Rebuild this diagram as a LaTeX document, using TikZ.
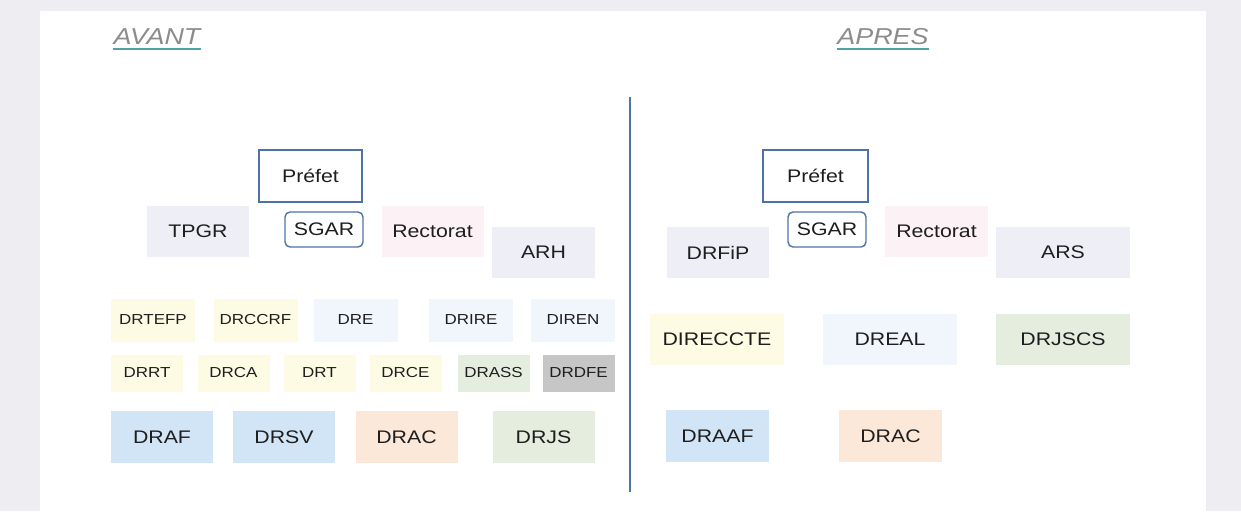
\documentclass[tikz,border=0pt]{standalone}
\usepackage{fontspec}
\setmainfont{Liberation Sans}[FakeStretch=1.17]
\definecolor{pagegray}{HTML}{EDEDF2}
\definecolor{linkblue}{HTML}{4C72A8}
\definecolor{titlegray}{HTML}{8C8C8C}
\definecolor{titleteal}{HTML}{4FA3A8}
\definecolor{inkgray}{HTML}{1E1E1E}
\definecolor{lavfill}{HTML}{EEEFF6}
\definecolor{pinkfill}{HTML}{FCF1F4}
\definecolor{yellowfill}{HTML}{FEFBE5}
\definecolor{paleblue}{HTML}{F1F6FC}
\definecolor{greenfill}{HTML}{E4EDDE}
\definecolor{grayfill}{HTML}{C6C6C6}
\definecolor{bluefill}{HTML}{D2E5F7}
\definecolor{peachfill}{HTML}{FCE8D8}
\tikzset{
	box/.style={rectangle, inner sep=0pt, text=inkgray, font=\fontsize{18.2}{20}\selectfont},
	bigbox/.style={box, minimum width=102pt, minimum height=51pt},
	widebox/.style={box, minimum width=134pt, minimum height=51pt},
	smallbox/.style={box, minimum width=84pt, minimum height=43pt, font=\fontsize{14.5}{16}\selectfont},
	tinybox/.style={box, minimum width=72pt, minimum height=37pt, font=\fontsize{14.5}{16}\selectfont},
	chef/.style={box, draw=linkblue, line width=1.6pt, fill=white, minimum width=103pt, minimum height=52pt},
	sgarbox/.style={box, draw=linkblue, line width=1.4pt, rounded corners=5pt, fill=white, minimum width=78pt, minimum height=35pt},
	titre/.style={inner sep=0pt, text=titlegray, font=\fontsize{23}{26}\selectfont\itshape}
}
\begin{document}
\begin{tikzpicture}[x=1pt,y=-1pt]
	\fill[pagegray] (0,0) rectangle (1241,511);
	\useasboundingbox (0,0) rectangle (1241,511);
	\fill[white] (40,11) rectangle (1206,511);

	% titres
	\node (avant)[titre, anchor=base] at (157,45) {AVANT};
	\node (apres)[titre, anchor=base] at (883,45) {APRES};
	\draw[titleteal, line width=2pt] ([yshift=-4pt]avant.base west) -- ([yshift=-4pt]avant.base east);
	\draw[titleteal, line width=2pt] ([yshift=-4pt]apres.base west) -- ([yshift=-4pt]apres.base east);

	% separation
	\coordinate (sephaut) at (630,97);
	\coordinate (sepbas) at (630,492);
	\draw[linkblue, line width=1.8pt] (sephaut) -- (sepbas);

	% avant
	\node (prefetA)[chef] at (310.5,176) {Préfet};
	\node (sgarA)[sgarbox] at (324,229.5) {SGAR};
	\node (tpgr)[bigbox, fill=lavfill] at (198,231.5) {TPGR};
	\node (rectoratA)[bigbox, fill=pinkfill] at (432.5,231.5) {Rectorat};
	\node (arh)[bigbox, fill=lavfill, minimum width=103pt] at (543.5,252.5) {ARH};

	\node (drtefp)[smallbox, fill=yellowfill] at (153,320) {DRTEFP};
	\node (drccrf)[smallbox, fill=yellowfill] at (255.5,320) {DRCCRF};
	\node (dre)[smallbox, fill=paleblue] at (355.5,320) {DRE};
	\node (drire)[smallbox, fill=paleblue] at (471,320) {DRIRE};
	\node (diren)[smallbox, fill=paleblue] at (573,320) {DIREN};

	\node (drrt)[tinybox, fill=yellowfill] at (147,373) {DRRT};
	\node (drca)[tinybox, fill=yellowfill] at (233.5,373) {DRCA};
	\node (drt)[tinybox, fill=yellowfill] at (319.5,373) {DRT};
	\node (drce)[tinybox, fill=yellowfill] at (405.5,373) {DRCE};
	\node (drass)[tinybox, fill=greenfill] at (493.5,373) {DRASS};
	\node (drdfe)[tinybox, fill=grayfill] at (578.5,373) {DRDFE};

	\node (draf)[bigbox, fill=bluefill, minimum height=52pt] at (162,437) {DRAF};
	\node (drsv)[bigbox, fill=bluefill, minimum height=52pt] at (284,437) {DRSV};
	\node (dracA)[bigbox, fill=peachfill, minimum height=52pt] at (406.5,437) {DRAC};
	\node (drjs)[bigbox, fill=greenfill, minimum height=52pt] at (543.5,437) {DRJS};

	% apres
	\node (prefetB)[chef, minimum width=105pt] at (815.5,176) {Préfet};
	\node (sgarB)[sgarbox] at (827,229.5) {SGAR};
	\node (rectoratB)[bigbox, fill=pinkfill, minimum width=103pt] at (936.5,231.5) {Rectorat};
	\node (drfip)[bigbox, fill=lavfill] at (718,252.5) {DRFiP};
	\node (ars)[widebox, fill=lavfill] at (1063,252.5) {ARS};

	\node (direccte)[widebox, fill=yellowfill] at (717,339.5) {DIRECCTE};
	\node (dreal)[widebox, fill=paleblue] at (890,339.5) {DREAL};
	\node (drjscs)[widebox, fill=greenfill] at (1063,339.5) {DRJSCS};

	\node (draaf)[bigbox, fill=bluefill, minimum width=103pt, minimum height=52pt] at (717.5,436) {DRAAF};
	\node (dracB)[bigbox, fill=peachfill, minimum width=103pt, minimum height=52pt] at (890.5,436) {DRAC};
\end{tikzpicture}
\end{document}
